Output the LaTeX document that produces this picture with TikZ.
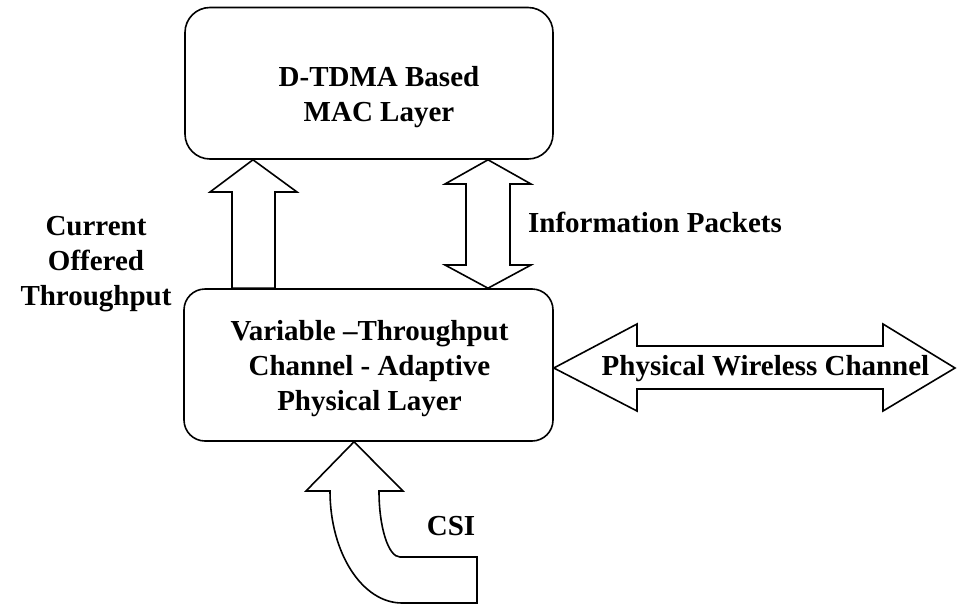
\documentclass[tikz,border=0pt]{standalone}
\usepackage{fontspec}
\setmainfont{Liberation Serif}
\usetikzlibrary{calc}
\tikzset{
  layer/.style={draw, line width=1.6pt},
  blockarrow/.style={draw, line width=1.6pt, line join=miter},
  label/.style={font=\bfseries\fontsize{29}{35}\selectfont, inner sep=0pt, align=center, anchor=base}
}
\begin{document}
\begin{tikzpicture}[x=1pt, y=-1pt]
  \useasboundingbox (0,0) rectangle (958,605);

  % layer boxes
  \node[layer, rounded corners=25pt, minimum width=368pt, minimum height=151.5pt] (mac) at (369,83.25) {};
  \node[layer, rounded corners=21pt, minimum width=369pt, minimum height=152pt] (phy) at (368.5,365) {};

  % multi-line labels sit on the baseline of their last line
  \node[label] (mactext) at (379,121.7) {D-TDMA Based\\MAC Layer};
  \node[label] (phytext) at (369.5,410) {Variable --Throughput\\Channel - Adaptive\\Physical Layer};

  % offered throughput: physical layer -> MAC layer
  \draw[blockarrow] (mac.south -| 253,0) -- (297,192) -- (275,192) -- (phy.north -| 275,0)
    -- (phy.north -| 232,0) -- (232,192) -- (210,192) -- cycle;
  \node[label] (rate) at (96,305) {Current\\Offered\\Throughput};

  % information packets in both directions
  \draw[blockarrow] (mac.south -| 488,0) -- (531,184) -- (510,184) -- (510,265) -- (531,265)
    -- (phy.north -| 488,0) -- (445,265) -- (466,265) -- (466,184) -- (445,184) -- cycle;
  \node[label] (info) at (655,232) {Information Packets};

  % physical wireless channel
  \draw[blockarrow] (phy.east |- 0,368) -- (637,324) -- (637,346) -- (883,346) -- (883,324)
    -- (955,368) -- (883,411) -- (883,389) -- (637,389) -- (637,411) -- cycle;
  \node[label] (wireless) at (765.5,375) {Physical Wireless Channel};

  % channel state information, bent arrow into the physical layer
  \draw[blockarrow] (phy.south -| 354,0) -- (403,491) -- (379,491)
    .. controls (379,527.5) and (388.4,557) .. (400,557)
    -- (477,557) -- (477,603) -- (402,603)
    .. controls (362.2,603) and (330,552.9) .. (330,491)
    -- (306,491) -- cycle;
  \node[label] (csi) at (451,535) {CSI};
\end{tikzpicture}
\end{document}
